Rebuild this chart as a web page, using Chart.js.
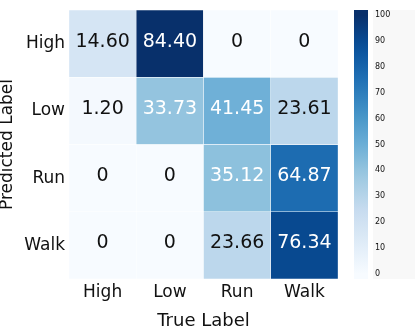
<!DOCTYPE html>
<html>
<head>
<meta charset="utf-8">
<script src="https://cdn.jsdelivr.net/npm/chart.js@4"></script>
<style>
  html, body { margin: 0; padding: 0; background: #fff; }
  #wrap { width: 415px; height: 327px; }
</style>
</head>
<body>
<div id="wrap"><canvas id="cm"></canvas></div>
<script>
// confusion matrix values (rows = predicted, cols = true)
const colLabels = ['High', 'Low', 'Run', 'Walk'];
const rowLabels = ['High', 'Low', 'Run', 'Walk'];
const rowHigh = [14.60, 84.40, 0, 0];
const rowLow = [1.20, 33.73, 41.45, 23.61];
const rowRun = [0, 0, 35.12, 64.87];
const rowWalk = [0, 0, 23.66, 76.34];
const rows = [rowHigh, rowLow, rowRun, rowWalk];
const cbMin = 0, cbMax = 100;

// matplotlib "Blues"
const blues = ['#f7fbff', '#deebf7', '#c6dbef', '#9ecae1', '#6baed6', '#4292c6', '#2171b5', '#08519c', '#08306b'];
function hex2rgb(h) { return [1, 3, 5].map(i => parseInt(h.substr(i, 2), 16)); }
function bluesAt(t) {
    t = Math.max(0, Math.min(1, t));
    const p = t * (blues.length - 1);
    const i = Math.min(Math.floor(p), blues.length - 2);
    const f = p - i;
    const a = hex2rgb(blues[i]), b = hex2rgb(blues[i + 1]);
    return a.map((v, k) => Math.round(v + (b[k] - v) * f));
}
const vmax = Math.max(...rows.flat());
const cellRgb = rows.map(r => r.map(v => bluesAt(v / vmax)));

const FONT = 'DejaVu Sans';
const INK = '#111111';

const annotate = {
    id: 'annotate',
    afterDatasetsDraw(chart) {
        const ctx = chart.ctx;
        ctx.save();
        ctx.font = '19px "' + FONT + '"';
        ctx.textAlign = 'center';
        ctx.textBaseline = 'middle';
        rows.forEach((r, i) => {
            const meta = chart.getDatasetMeta(i);
            r.forEach((v, j) => {
                const bar = meta.data[j];
                const cy = (bar.y + bar.base) / 2;
                ctx.fillStyle = v / vmax > 0.35 ? '#ffffff' : INK;
                ctx.fillText(v === 0 ? '0' : v.toFixed(2), bar.x, cy - 2);
            });
        });
        ctx.restore();
    }
};

// colorbar drawn before the scales so the tick labels sit on top
const colorbar = {
    id: 'colorbar',
    beforeDraw(chart) {
        const s = chart.scales.cb;
        const ctx = chart.ctx;
        const x0 = chart.chartArea.right + 16;
        const w = 14;
        ctx.save();
        ctx.fillStyle = '#f8f8f8';
        ctx.fillRect(x0 + w + 5, s.top, chart.width - (x0 + w + 5), s.bottom - s.top);
        const g = ctx.createLinearGradient(0, s.getPixelForValue(cbMin), 0, s.getPixelForValue(cbMax));
        for (let k = 0; k <= 20; k++) {
            const c = bluesAt(k / 20);
            g.addColorStop(k / 20, 'rgb(' + c.join(',') + ')');
        }
        ctx.fillStyle = g;
        ctx.fillRect(x0, s.top, w, s.bottom - s.top);
        ctx.restore();
    }
};

const datasets = rows.map((r, i) => ({
    label: rowLabels[i],
    data: r.map(() => 1),
    backgroundColor: cellRgb[i].map(c => 'rgb(' + c.join(',') + ')'),
    borderColor: '#ffffff',
    borderWidth: 0.5,
    borderSkipped: false,
    barPercentage: 1,
    categoryPercentage: 1,
    stack: 'cm'
}));

new Chart(document.getElementById('cm'), {
    type: 'bar',
    data: { labels: colLabels, datasets: datasets },
    options: {
        responsive: true,
        maintainAspectRatio: false,
        animation: false,
        layout: { padding: { top: 10, left: 0, right: 0, bottom: 0 } },
        plugins: { legend: { display: false }, tooltip: { enabled: false } },
        scales: {
            x: {
                stacked: true,
                grid: { display: false, drawTicks: false },
                border: { display: false },
                ticks: { color: INK, font: { family: FONT, size: 17 }, padding: 3 },
                title: { display: true, text: 'True Label', color: INK, font: { family: FONT, size: 18, lineHeight: 1 }, padding: { top: 0, bottom: -3 } },
                afterFit(s) { s.height = 48; }
            },
            y: {
                stacked: true,
                reverse: true,
                min: 0,
                max: 4,
                grid: { display: false, drawTicks: false },
                border: { display: false },
                afterBuildTicks(s) { s.ticks = [0.5, 1.5, 2.5, 3.5].map(v => ({ value: v })); },
                ticks: {
                    color: INK,
                    font: { family: FONT, size: 17 },
                    padding: 4,
                    callback: (v) => rowLabels[Math.floor(v)]
                },
                title: { display: true, text: 'Predicted Label', color: INK, font: { family: FONT, size: 17, lineHeight: 1 }, padding: { top: -1, bottom: 0 } },
                afterFit(s) { s.width = 69; s.paddingTop = 0; s.paddingBottom = 0; }
            },
            cb: {
                type: 'linear',
                position: 'right',
                min: -2,
                max: 102,
                grid: { display: false, drawTicks: true, tickLength: 34 },
                border: { display: false },
                ticks: {
                    stepSize: 10,
                    includeBounds: false,
                    color: INK,
                    font: { family: FONT, size: 8 },
                    padding: 3
                },
                afterFit(s) { s.width = 77; s.paddingTop = 0; s.paddingBottom = 0; }
            }
        }
    },
    plugins: [colorbar, annotate]
});
</script>
</body>
</html>
